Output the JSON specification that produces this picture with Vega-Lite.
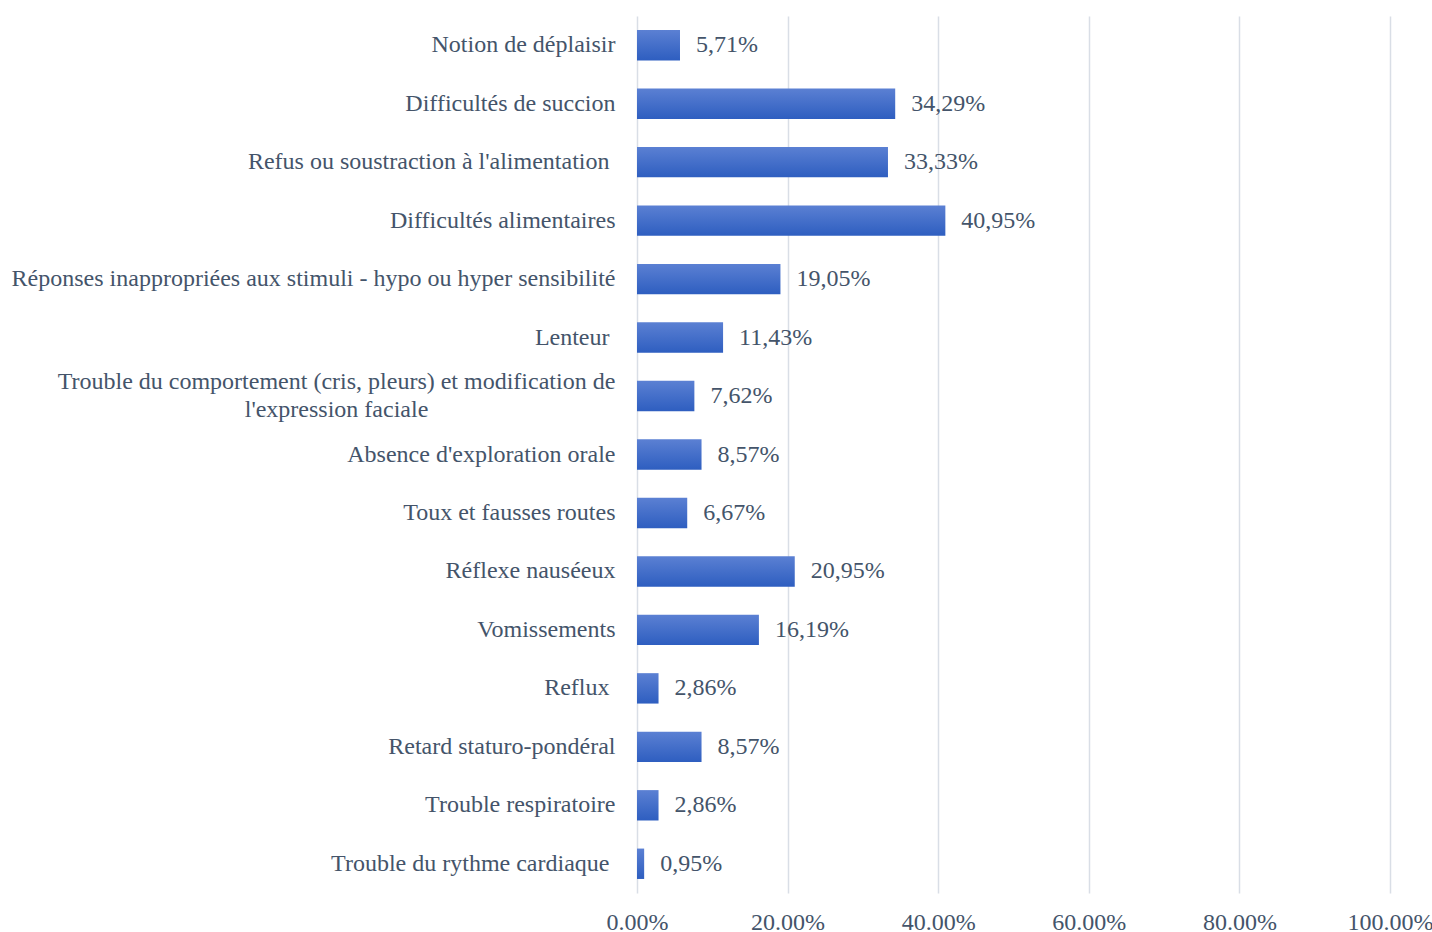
{
  "$schema": "https://vega.github.io/schema/vega-lite/v6.json",
  "autosize": "none",
  "padding": {"left": 637, "top": 16, "right": 42, "bottom": 38},
  "width": 753,
  "height": 877,
  "background": "white",
  "config": {
    "view": {"stroke": null},
    "font": "Liberation Serif",
    "text": {"font": "Liberation Serif"}
  },
  "data": {
    "values": [
      {"cat": "Notion de déplaisir", "v": 0.0571, "label": "5,71%"},
      {"cat": "Difficultés de succion", "v": 0.3429, "label": "34,29%"},
      {"cat": "Refus ou soustraction à l'alimentation", "v": 0.3333, "label": "33,33%"},
      {"cat": "Difficultés alimentaires", "v": 0.4095, "label": "40,95%"},
      {"cat": "Réponses inappropriées aux stimuli - hypo ou hyper sensibilité", "v": 0.1905, "label": "19,05%"},
      {"cat": "Lenteur", "v": 0.1143, "label": "11,43%"},
      {"cat": "Trouble du comportement (cris, pleurs) et modification de|l'expression faciale", "v": 0.0762, "label": "7,62%"},
      {"cat": "Absence d'exploration orale", "v": 0.0857, "label": "8,57%"},
      {"cat": "Toux et fausses routes", "v": 0.0667, "label": "6,67%"},
      {"cat": "Réflexe nauséeux", "v": 0.2095, "label": "20,95%"},
      {"cat": "Vomissements", "v": 0.1619, "label": "16,19%"},
      {"cat": "Reflux", "v": 0.0286, "label": "2,86%"},
      {"cat": "Retard staturo-pondéral", "v": 0.0857, "label": "8,57%"},
      {"cat": "Trouble respiratoire", "v": 0.0286, "label": "2,86%"},
      {"cat": "Trouble du rythme cardiaque", "v": 0.0095, "label": "0,95%"}
    ]
  },
  "encoding": {
    "y": {
      "field": "cat",
      "type": "nominal",
      "sort": null,
      "scale": {"paddingInner": 0.48, "paddingOuter": 0.24},
      "axis": {
        "title": null,
        "domain": false,
        "ticks": false,
        "grid": false,
        "labelFont": "Liberation Serif",
        "labelFontSize": 24,
        "labelColor": "#44546A",
        "labelPadding": {
          "condition": [
            {"test": "indexof(datum.value, '|') >= 0", "value": 301},
            {"test": "datum.value == 'Refus ou soustraction à l\\'alimentation' || datum.value == 'Lenteur' || datum.value == 'Reflux' || datum.value == 'Trouble du rythme cardiaque'", "value": 28}
          ],
          "value": 22
        },
        "labelAlign": {
          "condition": {"test": "indexof(datum.value, '|') >= 0", "value": "center"},
          "value": "right"
        },
        "labelOffset": {
          "condition": {"test": "indexof(datum.value, '|') >= 0", "value": -14},
          "value": 0
        },
        "labelLimit": 700,
        "labelLineHeight": 28,
        "labelExpr": "split(datum.label, '|')"
      }
    },
    "x": {
      "field": "v",
      "type": "quantitative",
      "scale": {"domain": [0, 1], "nice": false},
      "axis": {
        "title": null,
        "format": ".2%",
        "values": [0, 0.2, 0.4, 0.6, 0.8, 1],
        "domain": false,
        "ticks": false,
        "grid": true,
        "gridColor": "#D9DEE6",
        "gridWidth": 1.5,
        "labelFont": "Liberation Serif",
        "labelFontSize": 24,
        "labelColor": "#44546A",
        "labelPadding": 17,
        "labelFlush": false
      }
    }
  },
  "layer": [
    {
      "mark": {
        "type": "bar",
        "color": {
          "gradient": "linear",
          "x1": 0, "y1": 0, "x2": 0, "y2": 1,
          "stops": [
            {"offset": 0, "color": "#5B80D3"},
            {"offset": 1, "color": "#2E5EC0"}
          ]
        }
      }
    },
    {
      "mark": {
        "type": "text",
        "align": "left",
        "baseline": "middle",
        "dx": 16,
        "font": "Liberation Serif",
        "fontSize": 24,
        "color": "#44546A"
      },
      "encoding": {"text": {"field": "label"}}
    }
  ]
}
